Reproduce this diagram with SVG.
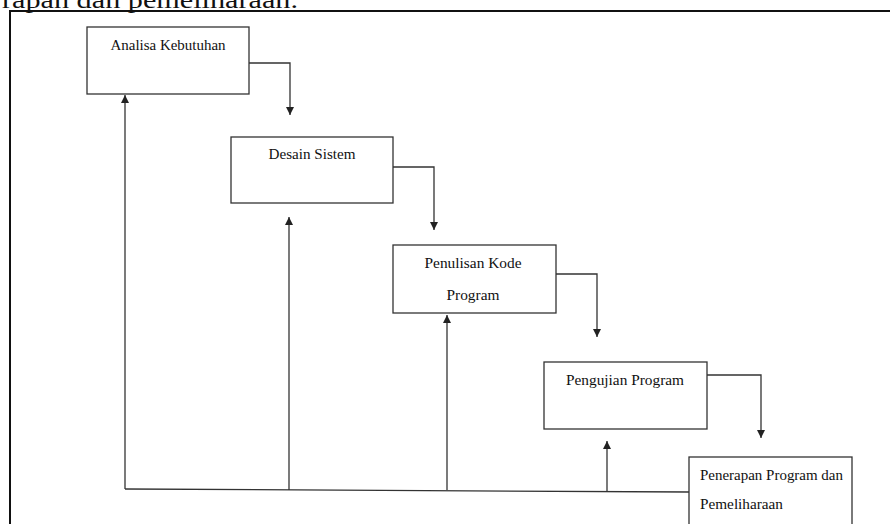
<svg xmlns="http://www.w3.org/2000/svg" width="890" height="524" viewBox="0 0 890 524">
<style>
.box{fill:#fff;stroke:#333;stroke-width:1.3}
.lbl{font-family:"Liberation Serif","Times New Roman",serif;font-size:15px;fill:#111}
.con{fill:none;stroke:#333;stroke-width:1.3}
.frame{fill:none;stroke:#111;stroke-width:2}
.cap{font-family:"Liberation Serif","Times New Roman",serif;font-size:24px;fill:#111}
</style>
<defs>
<marker id="ah" markerWidth="8" markerHeight="10" refX="8" refY="4" orient="auto" markerUnits="userSpaceOnUse" viewBox="0 0 8 10">
<path d="M0,0 L8,4 L0,8 Z" fill="#222"/>
</marker>
</defs>
<rect width="890" height="524" fill="#fff"/>
<text class="cap" x="2" y="8" textLength="296" lengthAdjust="spacingAndGlyphs">rapan dan pemeliharaan.</text>
<path class="frame" d="M10,524 L10,11 L890,11"/>
<g id="connectors">
<path class="con" d="M249,63 L290,63 L290,115" marker-end="url(#ah)"/>
<path class="con" d="M393,167 L434,167 L434,230" marker-end="url(#ah)"/>
<path class="con" d="M556,274 L597,274 L597,337" marker-end="url(#ah)"/>
<path class="con" d="M707,375 L761,375 L761,438" marker-end="url(#ah)"/>
<path class="con" d="M125,489 L689,492"/>
<path class="con" d="M125,489 L125,95" marker-end="url(#ah)"/>
<path class="con" d="M289,490 L289,217" marker-end="url(#ah)"/>
<path class="con" d="M447,490 L447,315" marker-end="url(#ah)"/>
<path class="con" d="M607,491 L607,441" marker-end="url(#ah)"/>
</g>
<g id="analisa">
<rect class="box" x="87" y="27" width="162" height="67"/>
<text class="lbl" x="168" y="50" text-anchor="middle" textLength="115" lengthAdjust="spacingAndGlyphs">Analisa Kebutuhan</text>
</g>
<g id="desain">
<rect class="box" x="231" y="137" width="162" height="66"/>
<text class="lbl" x="312" y="159" text-anchor="middle" textLength="87" lengthAdjust="spacingAndGlyphs">Desain Sistem</text>
</g>
<g id="penulisan">
<rect class="box" x="393" y="245" width="163" height="68"/>
<text class="lbl" x="473" y="268" text-anchor="middle" textLength="97" lengthAdjust="spacingAndGlyphs">Penulisan Kode</text>
<text class="lbl" x="473" y="300" text-anchor="middle" textLength="53" lengthAdjust="spacingAndGlyphs">Program</text>
</g>
<g id="pengujian">
<rect class="box" x="544" y="362" width="163" height="67"/>
<text class="lbl" x="625" y="385" text-anchor="middle" textLength="118" lengthAdjust="spacingAndGlyphs">Pengujian Program</text>
</g>
<g id="penerapan">
<rect class="box" x="689" y="457" width="163" height="80"/>
<text class="lbl" x="700" y="480" textLength="143" lengthAdjust="spacingAndGlyphs">Penerapan Program dan</text>
<text class="lbl" x="700" y="509" textLength="83" lengthAdjust="spacingAndGlyphs">Pemeliharaan</text>
</g>
</svg>
